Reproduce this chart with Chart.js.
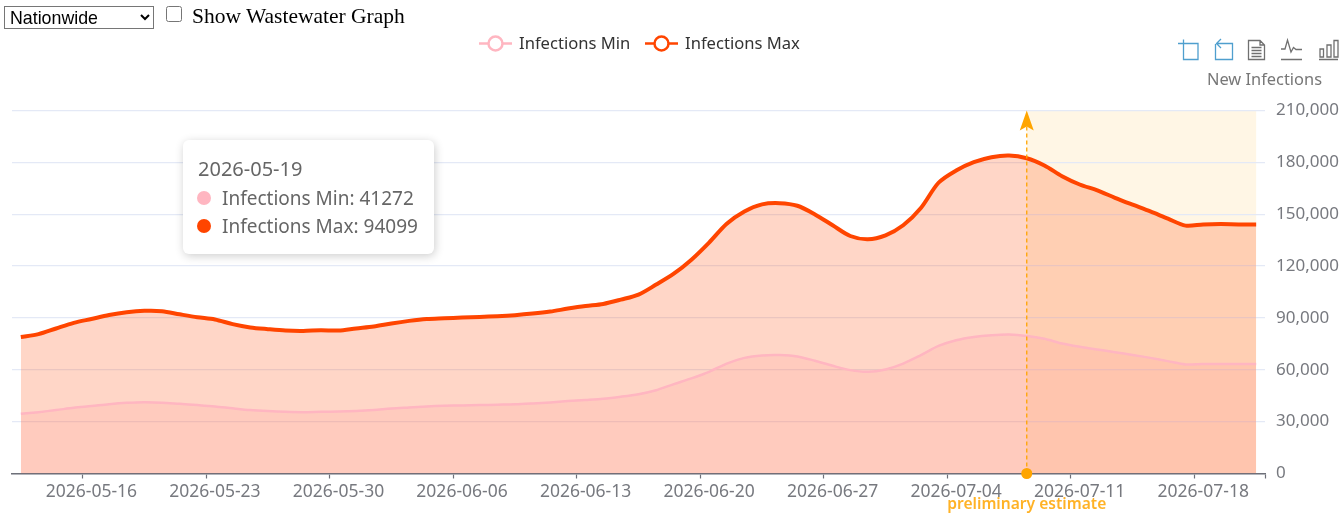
<!DOCTYPE html>
<html>
<head>
<meta charset="utf-8">
<script src="https://cdn.jsdelivr.net/npm/chart.js@4"></script>
<style>
html,body{margin:0;padding:0;background:#fff;width:1344px;height:519px;overflow:hidden}
#ctl{position:absolute;left:4px;top:5px;z-index:3;font-family:"Liberation Serif",serif;font-size:21.5px;line-height:22px;white-space:nowrap}
#region{position:absolute;left:0;top:1px;width:150px;height:23px;font-family:"Liberation Sans",Arial,sans-serif;font-size:17.800px;background:#fff;border:1px solid #767676;border-radius:0;padding:0 0 0 1px}
#cb{position:absolute;left:162px;top:1px;margin:0;width:16px;height:16px}
#cbl{position:absolute;left:188px;top:0}
#wrap{position:absolute;left:0;top:0;width:1344px;height:519px}
.f{font-family:"Noto Sans","Open Sans",sans-serif}
#legend{position:absolute;left:0;top:33px;height:20px;color:#333;font-size:16.600px;z-index:2}
#legend .i{position:absolute;top:0;white-space:nowrap;line-height:20px}
#legend svg{position:absolute;top:0;left:0}
#yname{position:absolute;left:1207px;top:68px;font-size:16.400px;color:#777;line-height:22px;white-space:nowrap}
#tools{position:absolute;left:0;top:0}
#tip{position:absolute;left:183px;top:140px;width:251px;height:114px;background:#fff;border-radius:6px;box-shadow:1px 2px 10px rgba(0,0,0,.2);color:#666;font-size:19px;z-index:2}
#tip div{position:absolute;white-space:nowrap;line-height:24px}
#tip span{position:absolute;width:14px;height:14px;border-radius:50%}
</style>
</head>
<body>
<div id="ctl"><select id="region"><option>Nationwide</option></select><input id="cb" type="checkbox"><label id="cbl">Show Wastewater Graph</label></div>
<div id="wrap"><canvas id="c" width="1344" height="519"></canvas></div>
<div id="legend" class="f"></div>
<div id="yname" class="f"></div>
<svg id="tools" width="1344" height="70" fill="none" stroke-width="1.3">
 <g stroke="#4f9fce">
  <path d="M1178 43.5H1198V59.5H1183.5V39.5"/>
  <path d="M1215.500 44V59.500H1232.500V43.500H1217M1221 39L1216.500 43.500L1221 48"/>
 </g>
 <g stroke="#707070">
  <path d="M1248.500 40.500H1260L1264.500 45V59.500H1248.500ZM1260 40.500V45H1264.500M1251.500 47.500H1261.500M1251.500 50.500H1261.500M1251.500 53.500H1261.500M1251.500 56.500H1261.500"/>
  <path d="M1281 49H1285L1287.500 40L1291 52L1293.500 47.500L1296 49.500H1302M1281 59.500H1302"/>
  <path d="M1319 59.500H1338M1320 49H1323.500V57H1320ZM1327 45H1331V57H1327ZM1334 40.500H1338V57H1334Z"/>
 </g>
</svg>
<div id="tip" class="f"></div>
<script>
const dates = ["2026-05-12","2026-05-13","2026-05-14","2026-05-15","2026-05-16","2026-05-17","2026-05-18","2026-05-19","2026-05-20","2026-05-21","2026-05-22","2026-05-23","2026-05-24","2026-05-25","2026-05-26","2026-05-27","2026-05-28","2026-05-29","2026-05-30","2026-05-31","2026-06-01","2026-06-02","2026-06-03","2026-06-04","2026-06-05","2026-06-06","2026-06-07","2026-06-08","2026-06-09","2026-06-10","2026-06-11","2026-06-12","2026-06-13","2026-06-14","2026-06-15","2026-06-16","2026-06-17","2026-06-18","2026-06-19","2026-06-20","2026-06-21","2026-06-22","2026-06-23","2026-06-24","2026-06-25","2026-06-26","2026-06-27","2026-06-28","2026-06-29","2026-06-30","2026-07-01","2026-07-02","2026-07-03","2026-07-04","2026-07-05","2026-07-06","2026-07-07","2026-07-08","2026-07-09","2026-07-10","2026-07-11","2026-07-12","2026-07-13","2026-07-14","2026-07-15","2026-07-16","2026-07-17","2026-07-18","2026-07-19","2026-07-20","2026-07-21"];
const infectionsMin = [34500,35500,36700,38000,39000,40100,40900,41272,41000,40300,39600,38800,37700,36700,36100,35700,35500,35700,35800,36100,36700,37600,38200,38800,39200,39400,39600,39800,40000,40500,41100,41900,42500,43200,44400,45900,48200,51700,55000,58800,63600,66900,68300,68500,67700,65200,62300,59800,58800,60200,63600,68500,73800,77100,79000,80000,80400,79600,77900,75200,73300,71700,70200,68600,66900,65000,63100,63400,63400,63400,63300];
const infectionsMax = [79000,80600,83900,87100,89400,91700,93300,94099,93900,92100,90400,89100,86400,84500,83500,82700,82500,82900,82700,83900,85000,86800,88300,89400,89800,90200,90600,91000,91600,92500,93700,95400,96900,98100,100600,103500,109300,115600,123700,133600,144500,151600,155700,156400,154900,149900,143600,137400,135500,137800,143600,153600,168200,175300,180100,183000,184000,182400,178200,172000,167200,163800,159500,155500,151600,147400,143400,144100,144300,144100,144100];
const minName = "Infections Min", maxName = "Infections Max";
const yTicks = [0,30000,60000,90000,120000,150000,180000,210000];
const axisName = "New Infections";
const estimateDate = "2026-07-08", estimateText = "preliminary estimate";
const tipDate = "2026-05-19";
const minColor = "#FFB6C1", maxColor = "#FF4500", markColor = "#FFA500";
const FONT = '"Noto Sans","Open Sans",sans-serif';

// legend
const legendEl = document.getElementById('legend');
[[minName,minColor,479],[maxName,maxColor,645]].forEach(([n,col,x])=>{
  const d=document.createElement('div');d.className='i';d.style.left=x+'px';d.style.paddingLeft='40px';d.textContent=n;
  d.insertAdjacentHTML('afterbegin',`<svg width="34" height="20"><path d="M0 10.500H33" stroke="${col}" stroke-width="2.500"/><circle cx="16.500" cy="10.500" r="7" fill="#fff" stroke="${col}" stroke-width="2.500"/></svg>`);
  legendEl.appendChild(d);
});
document.getElementById('yname').textContent=axisName;

// tooltip
const ti=dates.indexOf(tipDate), tip=document.getElementById('tip');
tip.innerHTML=`<div style="left:15px;top:17px;font-size:20px">${tipDate}</div>
<span style="left:14px;top:51px;background:${minColor}"></span><div style="left:39px;top:46px">${minName}: ${infectionsMin[ti]}</div>
<span style="left:14px;top:79px;background:${maxColor}"></span><div style="left:39px;top:74px">${maxName}: ${infectionsMax[ti]}</div>`;

const markPlugin={
  id:'mark',
  beforeDraw(ch){
    const {ctx,scales:{x,y}}=ch;
    const l=x.getPixelForValue(dates.indexOf(estimateDate)), r=x.getPixelForValue(dates.length-1);
    ctx.save();ctx.fillStyle='rgba(255,165,0,0.1)';
    ctx.fillRect(l,y.getPixelForValue(210000),r-l,y.getPixelForValue(0)-y.getPixelForValue(210000));
    ctx.restore();
  },
  afterDatasetsDraw(ch){
    const {ctx,scales:{x,y}}=ch;
    const px=x.getPixelForValue(dates.indexOf(estimateDate)), t=y.getPixelForValue(210000), b=y.getPixelForValue(0);
    ctx.save();
    ctx.strokeStyle=markColor;ctx.fillStyle=markColor;ctx.lineWidth=1.3;
    ctx.setLineDash([4,3]);
    ctx.beginPath();ctx.moveTo(px,b);ctx.lineTo(px,t+14);ctx.stroke();
    ctx.setLineDash([]);
    ctx.beginPath();ctx.moveTo(px,t);ctx.lineTo(px+7,t+20);ctx.lineTo(px,t+16);ctx.lineTo(px-7,t+20);ctx.closePath();ctx.fill();
    ctx.beginPath();ctx.arc(px,b,5.500,0,Math.PI*2);ctx.fill();
    ctx.globalAlpha=.85;
    ctx.font='600 15.600px '+FONT;ctx.textAlign='center';ctx.textBaseline='middle';
    ctx.fillText(estimateText,px,505);
    ctx.restore();
  }
};

new Chart(document.getElementById('c'),{
  type:'line',
  data:{labels:dates,datasets:[
    {label:minName,data:infectionsMin,order:2,borderColor:minColor,backgroundColor:'rgba(255,182,193,0.2)',borderWidth:2.500,fill:'origin',pointRadius:0,tension:.3},
    {label:maxName,data:infectionsMax,order:1,borderColor:maxColor,backgroundColor:'rgba(255,69,0,0.22)',borderWidth:4,fill:'origin',pointRadius:0,tension:.3}
  ]},
  options:{
    responsive:false,animation:false,devicePixelRatio:1,
    layout:{padding:{left:12,top:110.500,right:0,bottom:0}},
    plugins:{legend:{display:false},tooltip:{enabled:false},filler:{drawTime:'beforeDatasetsDraw'}},
    events:[],
    scales:{
      x:{type:'category',offset:true,
        afterFit(s){s.height=45.5},
        border:{color:'#6E7079',width:1.500},
        grid:{display:true,drawOnChartArea:false,offset:true,tickLength:5,tickWidth:1.200,
          tickColor:c=>(c.index===undefined||c.index%7===4)?'#6E7079':'rgba(0,0,0,0)'},
        ticks:{autoSkip:false,maxRotation:0,minRotation:0,padding:3,color:'#77797f',font:{family:FONT,size:17.500},
          callback(v,i){return i%7===4?dates[i]:''}}
      },
      y:{position:'right',min:0,max:210000,
        afterFit(s){s.width=79},
        afterBuildTicks(s){s.ticks=yTicks.map(v=>({value:v}))},
        border:{display:false},
        grid:{color:'#E4E9F6',lineWidth:1.200,drawTicks:false},
        ticks:{padding:11,color:'#77797f',font:{family:FONT,size:17},callback:v=>v.toLocaleString('en-US')}
      }
    }
  },
  plugins:[markPlugin]
});
</script>
</body>
</html>
